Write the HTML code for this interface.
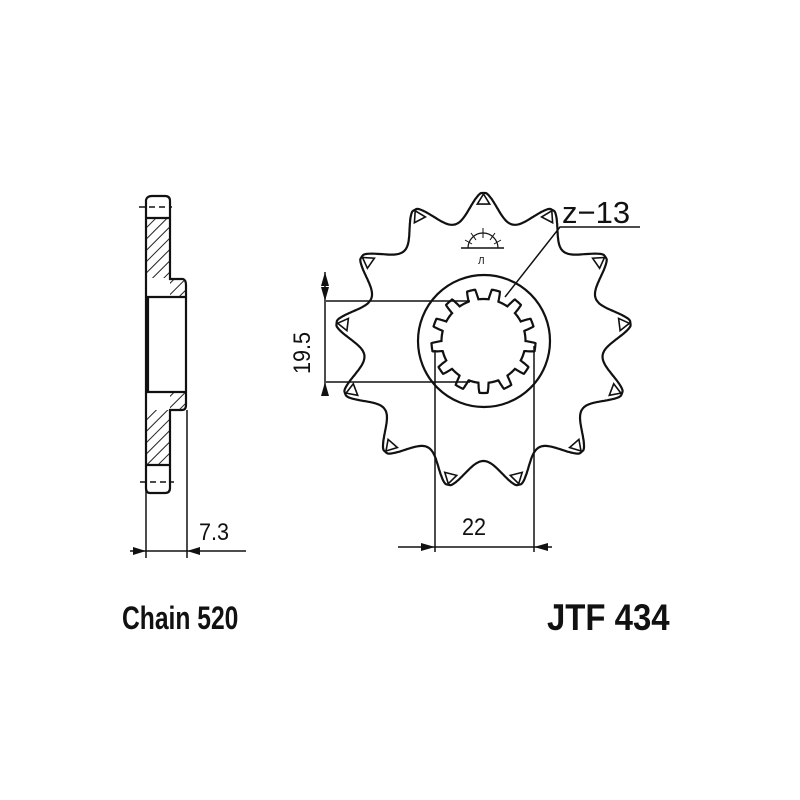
<!DOCTYPE html>
<html><head><meta charset="utf-8"><style>
html,body{margin:0;padding:0;background:#fff;width:800px;height:800px;overflow:hidden}
svg{display:block}
text{font-family:"Liberation Sans",sans-serif;fill:#111}
</style></head><body>
<svg id="s" width="800" height="800" viewBox="0 0 800 800" xmlns="http://www.w3.org/2000/svg">
<defs>
<pattern id="h" patternUnits="userSpaceOnUse" width="8" height="8" patternTransform="rotate(45)">
<line x1="0" y1="0" x2="0" y2="8" stroke="#222" stroke-width="2"/>
</pattern>
</defs>
<g fill="none" stroke="#111" stroke-width="2.2">
<rect x="146" y="218" width="24" height="60" fill="url(#h)" stroke="none"/>
<rect x="146" y="410" width="24" height="55" fill="url(#h)" stroke="none"/>
<rect x="170" y="280" width="15" height="17" fill="url(#h)" stroke="none"/>
<rect x="170" y="392" width="15" height="17" fill="url(#h)" stroke="none"/>
<path d="M146,200 Q147,196 152,196 L165,196 Q170,196 170,201 L170,279 L183,279 Q186,280 186,285 L186,405 Q186,410 182,410 L170,410 L170,488 Q170,493 165,493 L150,493 Q146,493 146,488 Z"/>
<line x1="146" y1="297" x2="186" y2="297"/>
<line x1="146" y1="392" x2="186" y2="392"/>
<line x1="148" y1="297" x2="148" y2="392"/>
<line x1="146" y1="218" x2="170" y2="218"/>
<line x1="146" y1="465" x2="170" y2="465"/>
<line x1="139" y1="207" x2="172" y2="207" stroke-dasharray="6,4" stroke-width="1.5"/>
<line x1="140" y1="482" x2="174" y2="482" stroke-dasharray="6,4" stroke-width="1.5"/>
<line x1="146" y1="488" x2="146" y2="558" stroke-width="1.5"/>
<line x1="187" y1="410" x2="187" y2="558" stroke-width="1.5"/>
<line x1="130" y1="551" x2="246" y2="551" stroke-width="1.5"/>
<path id="sp"/>
<path id="tri" stroke-width="1.6"/>
<circle cx="484" cy="341" r="66"/>
<path id="spl"/>
<line x1="326" y1="301" x2="470" y2="301" stroke-width="1.5"/>
<line x1="326" y1="382" x2="470" y2="382" stroke-width="1.5"/>
<line x1="325" y1="272" x2="325" y2="396" stroke-width="1.5"/>
<line x1="435" y1="350" x2="435" y2="552" stroke-width="1.5"/>
<line x1="534" y1="346" x2="534" y2="552" stroke-width="1.5"/>
<line x1="398" y1="547" x2="552" y2="547" stroke-width="1.5"/>
<polyline points="505,297 560,227 640,227" stroke-width="1.5"/>
<path d="M468,248 A15,15 0 0 1 498,248" stroke-width="1.2"/>
<line x1="461" y1="248" x2="504" y2="248" stroke-width="1.5"/>
<line x1="483" y1="228" x2="483" y2="238" stroke-width="1"/>
<line x1="471" y1="233" x2="476" y2="240" stroke-width="1"/>
<line x1="495" y1="233" x2="490" y2="240" stroke-width="1"/>
<line x1="465" y1="240" x2="472" y2="244" stroke-width="1"/>
<line x1="501" y1="240" x2="494" y2="244" stroke-width="1"/>
</g>
<g fill="#111">
<polygon points="325,272 321,286 329,286"/>
<polygon points="325,301 321,287 329,287"/>
<polygon points="325,382 321,396 329,396"/>
<polygon points="146,551 133,547 133,555"/>
<polygon points="187,551 200,547 200,555"/>
<polygon points="435,547 421,543 421,551"/>
<polygon points="534,547 548,543 548,551"/>
</g>
<text x="478" y="264" font-size="10">Л</text>
<text x="199" y="540" font-size="24" transform="translate(199,0) scale(0.9,1) translate(-199,0)">7.3</text>
<text x="462" y="535" font-size="24" transform="translate(462,0) scale(0.9,1) translate(-462,0)">22</text>
<text transform="translate(310,374) rotate(-90) scale(0.9,1)" font-size="24">19.5</text>
<text x="562" y="223" font-size="31">z−13</text>
<text x="122" y="629" font-size="32" font-weight="bold" transform="translate(122,0) scale(0.77,1) translate(-122,0)">Chain 520</text>
<text x="547" y="630" font-size="37" font-weight="bold" transform="translate(547,0) scale(0.89,1) translate(-547,0)">JTF 434</text>
</svg>
<script>
(function(){
var cx=483.5,cy=341,Rv=120,Rt=148,N=13,d="",tr="";
for(var i=0;i<=1040;i++){
 var th=-Math.PI/2+i/1040*2*Math.PI;
 var ph=((th+Math.PI/2)*N/(2*Math.PI));ph=ph-Math.round(ph);
 var t=Math.abs(ph)*2;
 var tt=Math.max(0,(t-0.06)/0.94);
 var r=Rv+(Rt-Rv)*(1+Math.cos(Math.PI*Math.pow(tt,0.72)))/2;
 d+=(i?"L":"M")+(cx+r*Math.cos(th)).toFixed(1)+","+(cy+r*Math.sin(th)).toFixed(1);
}
document.getElementById("sp").setAttribute("d",d+"Z");
for(var k=0;k<N;k++){
 var a=-Math.PI/2+k*2*Math.PI/N, da=0.045, r1=Rt-11;
 tr+="M"+(cx+(Rt-1)*Math.cos(a)).toFixed(1)+","+(cy+(Rt-1)*Math.sin(a)).toFixed(1)
  +"L"+(cx+r1*Math.cos(a-da)).toFixed(1)+","+(cy+r1*Math.sin(a-da)).toFixed(1)
  +"L"+(cx+r1*Math.cos(a+da)).toFixed(1)+","+(cy+r1*Math.sin(a+da)).toFixed(1)+"Z";
}
document.getElementById("tri").setAttribute("d",tr);
var ds="",M=13,Ro=52,Ri=42;
for(var i=0;i<=1300;i++){
 var th=i/1300*2*Math.PI;
 var ph=(th*M/(2*Math.PI))%1;
 var r=Ri+(Ro-Ri)*(ph<0.5?Math.min(1,Math.sin(ph*2*Math.PI)*2):0);
 ds+=(i?"L":"M")+(cx+r*Math.cos(th)).toFixed(1)+","+(cy+r*Math.sin(th)).toFixed(1);
}
document.getElementById("spl").setAttribute("d",ds+"Z");
})();
</script>
</body></html>
